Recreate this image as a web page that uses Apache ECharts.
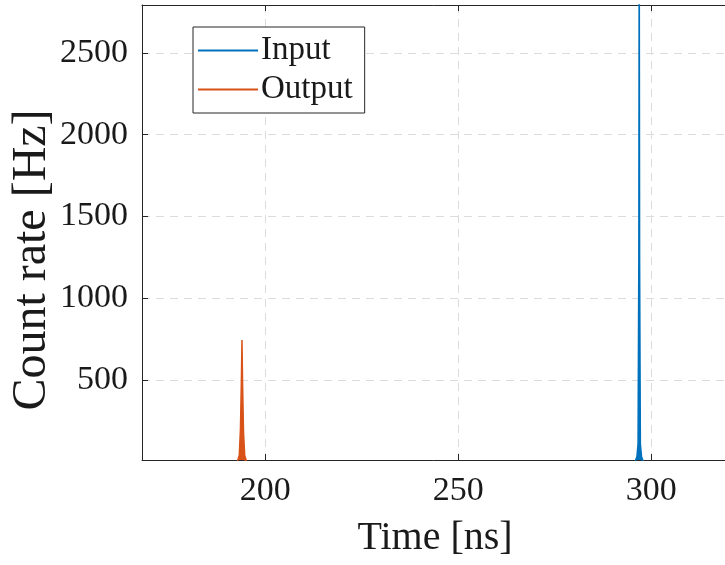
<!DOCTYPE html>
<html>
<head>
<meta charset="utf-8">
<script src="https://cdn.jsdelivr.net/npm/echarts@6/dist/echarts.min.js"></script>
<style>
  html, body { margin: 0; padding: 0; background: #fff; }
  #chart { width: 725px; height: 565px; }
</style>
</head>
<body>
<div id="chart"></div>
<script>
// time axis [ns] and count rate [Hz]
const inputTime = [295.8, 296.3, 296.6, 296.8, 296.9, 297.0, 297.2, 297.5, 298.0];
const inputRate = [0, 30, 110, 1260, 3400, 1250, 110, 30, 0];
const outputTime = [192.8, 193.3, 193.6, 193.85, 194.0, 194.15, 194.4, 194.7, 195.2];
const outputRate = [0, 40, 200, 500, 744, 480, 180, 40, 0];
const xTicks = [200, 250, 300];
const yTicks = [500, 1000, 1500, 2000, 2500];

const font = '"Liberation Serif", "DejaVu Serif", serif';
const axisColor = '#262626';
const textColor = '#1a1a1a';

const chart = echarts.init(document.getElementById('chart'));
const option = {
  animation: false,
  backgroundColor: '#fff',
  textStyle: { fontFamily: font },
  grid: { left: 142, top: 5, bottom: 105, right: -3, containLabel: false, outerBoundsMode: 'none' },
  legend: {
    orient: 'vertical',
    left: 193,
    top: 27,
    padding: [4, 12, 4, 5],
    itemGap: 0,
    itemWidth: 60,
    itemHeight: 2,
    icon: 'rect',
    borderColor: axisColor,
    borderWidth: 1,
    backgroundColor: '#fff',
    textStyle: { fontFamily: font, fontSize: 33, lineHeight: 39, color: textColor, padding: [0, 0, 0, -2] },
    data: ['Input', 'Output']
  },
  // y axis title, rotated to read bottom to top
  graphic: [
    {
      type: 'text',
      x: 56,
      y: 260,
      rotation: Math.PI / 2,
      style: {
        text: 'Count rate [Hz]',
        fontFamily: font,
        fontSize: 48,
        fill: textColor,
        textAlign: 'center',
        textVerticalAlign: 'bottom'
      }
    }
  ],
  xAxis: [
    {
      type: 'value',
      min: 168.1,
      max: 319.9,
      name: 'Time [ns]',
      nameLocation: 'middle',
      nameGap: 58,
      nameMoveOverlap: false,
      nameTextStyle: { fontFamily: font, fontSize: 40, color: textColor },
      axisLine: { onZero: false, lineStyle: { color: axisColor, width: 1 } },
      axisTick: { inside: true, length: 6, customValues: xTicks, lineStyle: { color: axisColor } },
      axisLabel: { customValues: xTicks, margin: 14, fontFamily: font, fontSize: 34, color: textColor, formatter: v => String(v) },
      splitLine: { show: true, lineStyle: { color: '#dcdcdc', type: [8, 6], width: 1 } }
    },
    {
      type: 'value',
      position: 'top',
      min: 168.1,
      max: 319.9,
      axisLine: { onZero: false, lineStyle: { color: axisColor, width: 1 } },
      axisTick: { inside: true, length: 6, customValues: xTicks, lineStyle: { color: axisColor } },
      axisLabel: { show: false },
      splitLine: { show: false }
    }
  ],
  yAxis: {
    type: 'value',
    min: 11,
    max: 2793,
    axisLine: { show: true, onZero: false, lineStyle: { color: axisColor, width: 1 } },
    axisTick: { show: true, inside: true, length: 6, customValues: yTicks, lineStyle: { color: axisColor } },
    axisLabel: { customValues: yTicks, margin: 14, fontFamily: font, fontSize: 34, color: textColor, formatter: v => String(v) },
    splitLine: { show: true, lineStyle: { color: '#dcdcdc', type: [8, 6], width: 1 } }
  },
  series: [
    {
      name: 'Input',
      type: 'line',
      symbol: 'none',
      clip: true,
      color: '#0072BD',
      lineStyle: { width: 1.5 },
      areaStyle: { color: '#0072BD', opacity: 1 },
      data: inputTime.map((t, i) => [t, inputRate[i]])
    },
    {
      name: 'Output',
      type: 'line',
      symbol: 'none',
      clip: true,
      color: '#D95319',
      lineStyle: { width: 1.5 },
      areaStyle: { color: '#D95319', opacity: 1 },
      data: outputTime.map((t, i) => [t, outputRate[i]])
    }
  ]
};
chart.setOption(option);
window.onresize = function () {
  chart.resize();
};
</script>
</body>
</html>
